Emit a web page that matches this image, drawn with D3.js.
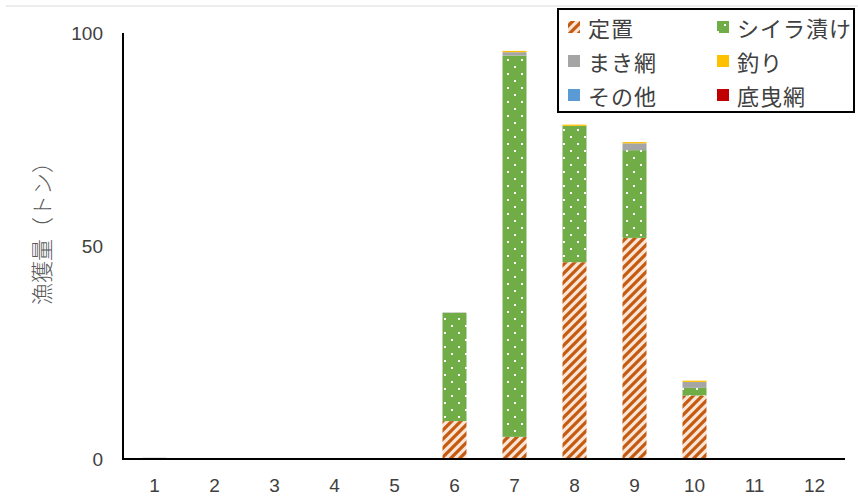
<!DOCTYPE html>
<html>
<head>
<meta charset="utf-8">
<script src="https://cdn.jsdelivr.net/npm/d3@7"></script>
<style>
  html, body { margin: 0; padding: 0; background: #fff; }
  svg { display: block; }
</style>
</head>
<body>
<svg id="chart" width="858" height="502"></svg>
<script>
// Monthly catch (tonnes) by fishing method
const months = [1, 2, 3, 4, 5, 6, 7, 8, 9, 10, 11, 12];
const teichi   = [0, 0, 0, 0, 0, 8.9, 5.2, 46.2, 51.9, 14.9, 0, 0];   // 定置
const shiira   = [0, 0, 0, 0, 0, 25.4, 89.5, 32.0, 20.6, 1.8, 0, 0];  // シイラ漬け
const makiami  = [0.3, 0, 0, 0, 0, 0.1, 0.8, 0, 1.6, 1.4, 0, 0];      // まき網
const tsuri    = [0, 0, 0, 0, 0, 0, 0.3, 0.3, 0.3, 0.3, 0, 0];        // 釣り
const sonota   = [0, 0, 0, 0, 0, 0, 0, 0, 0, 0, 0, 0];                // その他
const sokobiki = [0, 0, 0, 0, 0, 0, 0, 0, 0, 0, 0, 0];                // 底曳網
const yTicks = [0, 50, 100];
const seriesNames = ["定置", "シイラ漬け", "まき網", "釣り", "その他", "底曳網"];

const seriesValues = [teichi, shiira, makiami, tsuri, sonota, sokobiki];
const rows = months.map((m, i) => {
  const r = { month: m };
  seriesNames.forEach((n, k) => { r[n] = seriesValues[k][i]; });
  return r;
});

const svg = d3.select("#chart");
const defs = svg.append("defs");

// 定置: orange diagonal stripes on a peach ground
const stripe = defs.append("pattern")
  .attr("id", "pat-teichi").attr("patternUnits", "userSpaceOnUse")
  .attr("width", 9).attr("height", 9);
stripe.append("rect").attr("width", 9).attr("height", 9).attr("fill", "#fbe5d6");
stripe.append("path").attr("d", "M-2,2 L2,-2 M0,9 L9,0 M7,11 L11,7")
  .attr("stroke", "#c55a11").attr("stroke-width", 3.2);

// シイラ漬け: green with a staggered grid of white dots
const dots = defs.append("pattern")
  .attr("id", "pat-shiira").attr("patternUnits", "userSpaceOnUse")
  .attr("width", 14).attr("height", 14);
dots.append("rect").attr("width", 14).attr("height", 14).attr("fill", "#70ad47");
dots.append("rect").attr("x", 3).attr("y", 3).attr("width", 2).attr("height", 2).attr("fill", "#fff");
dots.append("rect").attr("x", 10).attr("y", 10).attr("width", 2).attr("height", 2).attr("fill", "#fff");

const fills = {
  "定置": "url(#pat-teichi)",
  "シイラ漬け": "url(#pat-shiira)",
  "まき網": "#a5a5a5",
  "釣り": "#ffc000",
  "その他": "#5b9bd5",
  "底曳網": "#c00000"
};

// chart-area frame line along the top
svg.append("line").attr("x1", 6).attr("x2", 858).attr("y1", 6).attr("y2", 6)
  .attr("stroke", "#d9d9d9").attr("stroke-width", 1);

const x = d3.scaleBand().domain(months).range([124.5, 844.5])
  .paddingInner(0.6).paddingOuter(0.3);
const y = d3.scaleLinear().domain([0, 100]).range([459, 33]);

const stack = d3.stack().keys(seriesNames);
const layers = stack(rows);

svg.append("g").selectAll("g").data(layers).join("g")
  .attr("fill", d => fills[d.key])
  .selectAll("rect").data(d => d).join("rect")
  .attr("x", d => x(d.data.month))
  .attr("width", x.bandwidth())
  .attr("y", d => y(d[1]))
  .attr("height", d => Math.max(0, y(d[0]) - y(d[1])));

const textColor = "#404040";
const numFont = "'Liberation Sans', Arial, sans-serif";
const jpFont = "'Noto Sans CJK JP', sans-serif";

// Y axis
const yAxis = svg.append("g").attr("transform", "translate(123,0)")
  .call(d3.axisLeft(y).tickValues(yTicks).tickSize(0).tickPadding(20));
yAxis.select(".domain").attr("stroke", "#000").attr("stroke-width", 2)
  .attr("d", `M0,${y(100)}V${y(0)}`);
yAxis.selectAll("text").attr("font-family", numFont).attr("font-size", 19)
  .attr("fill", textColor);

// X axis
const xAxis = svg.append("g").attr("transform", "translate(0,459)")
  .call(d3.axisBottom(x).tickSize(0).tickPadding(20));
xAxis.select(".domain").attr("stroke", "#000").attr("stroke-width", 2)
  .attr("d", "M122,0H845");
xAxis.selectAll("text").attr("font-family", numFont).attr("font-size", 19)
  .attr("fill", textColor);

// Y axis title
svg.append("text")
  .attr("transform", "translate(40,228) rotate(-90)")
  .attr("text-anchor", "middle").attr("dominant-baseline", "central")
  .attr("font-family", jpFont).attr("font-size", 22).attr("font-weight", 300)
  .attr("fill", "#595959")
  .text("漁獲量（トン）");

// Legend
const legend = svg.append("g");
legend.append("rect").attr("x", 558).attr("y", 9).attr("width", 296).attr("height", 103)
  .attr("fill", "#fff").attr("stroke", "#000").attr("stroke-width", 2);
const legX = [568, 717];
const legY = [27, 61, 95];
seriesNames.forEach((n, i) => {
  const cx = legX[i % 2], cy = legY[Math.floor(i / 2)];
  legend.append("rect").attr("x", cx).attr("y", cy - 6).attr("width", 12).attr("height", 12)
    .attr("fill", fills[n]);
  legend.append("text").attr("x", cx + 20).attr("y", cy)
    .attr("dominant-baseline", "central")
    .attr("font-family", jpFont).attr("font-size", 22).attr("letter-spacing", 1)
    .attr("fill", textColor).text(n);
});
</script>
</body>
</html>
